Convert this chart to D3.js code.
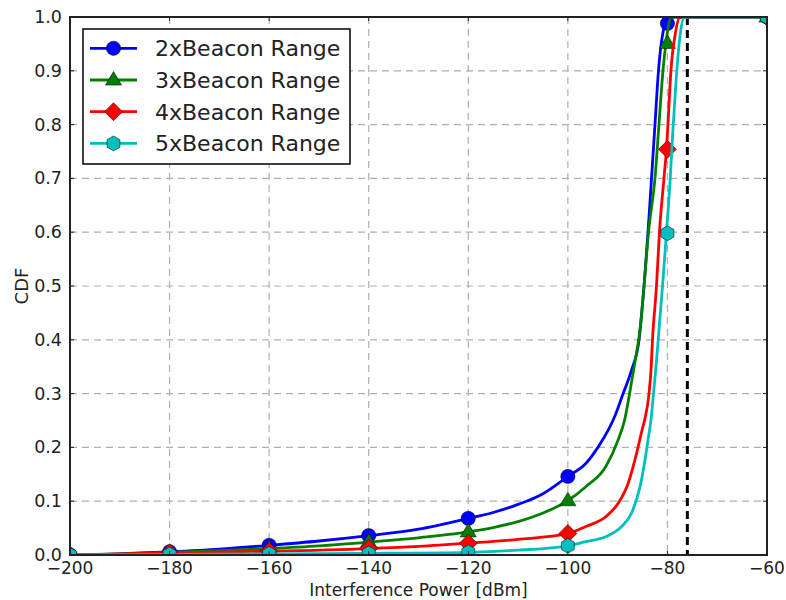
<!DOCTYPE html>
<html><head><meta charset="utf-8">
<script src="https://cdn.jsdelivr.net/npm/d3@7"></script>
<style>body{margin:0;background:#fff;} text{font-family:"DejaVu Sans",sans-serif;fill:#222;}</style>
</head><body><svg id="c" width="786" height="600"></svg>
<script>
const seriesNames = ["2xBeacon Range","3xBeacon Range","4xBeacon Range","5xBeacon Range"];
const seriesColors = ["#0000ff","#008000","#ff0000","#00bfbf"];
const seriesShapes = ["circle","triangle","diamond","hexagon"];
const xTicks = [-200,-180,-160,-140,-120,-100,-80,-60];
const yTicks = [0,0.1,0.2,0.3,0.4,0.5,0.6,0.7,0.8,0.9,1.0];
const thresholdX = -76;

const blueLine = [[-200,0],[-190,0.002],[-180,0.006],[-170,0.011],[-160,0.018],[-150,0.026],[-140,0.036],[-130,0.048],[-120,0.068],[-115,0.079],[-110,0.094],[-105,0.114],[-100,0.146],[-96.4,0.170],[-93.9,0.201],[-91.9,0.232],[-90.7,0.255],[-88.9,0.30],[-87.2,0.344],[-85.7,0.40],[-84.7,0.50],[-83.9,0.60],[-83.2,0.70],[-82.5,0.80],[-81.8,0.90],[-80.5,0.988],[-80,1.0],[-60,1.0]];
const greenLine = [[-200,0],[-190,0.002],[-180,0.005],[-170,0.008],[-160,0.012],[-150,0.017],[-140,0.024],[-130,0.032],[-120,0.043],[-115,0.051],[-110,0.062],[-105,0.078],[-100,0.101],[-96.4,0.127],[-92.4,0.164],[-89.9,0.214],[-88.6,0.251],[-87.6,0.30],[-86.5,0.36],[-85.5,0.42],[-84.7,0.50],[-83.8,0.60],[-82.5,0.70],[-81.7,0.80],[-80.9,0.90],[-80.3,0.951],[-79.2,1.0],[-60,1.0]];
const redLine = [[-200,0],[-180,0.004],[-160,0.007],[-140,0.012],[-130,0.016],[-120,0.022],[-110,0.029],[-100,0.040],[-96.4,0.053],[-92.4,0.071],[-89.9,0.096],[-87.9,0.133],[-86.2,0.189],[-85.1,0.232],[-84.6,0.25],[-83.7,0.30],[-83.3,0.344],[-83.0,0.40],[-82.2,0.50],[-81.6,0.60],[-80.7,0.70],[-80.2,0.754],[-79.9,0.80],[-79.3,0.90],[-78.4,0.97],[-77.5,1.0],[-60,1.0]];
const cyanLine = [[-200,0],[-180,0.001],[-160,0.002],[-140,0.003],[-120,0.005],[-110,0.009],[-100,0.017],[-96.4,0.025],[-92.4,0.034],[-89.2,0.053],[-87.2,0.078],[-85.5,0.127],[-84.5,0.177],[-83.8,0.22],[-83.3,0.251],[-82.8,0.30],[-82.2,0.36],[-81.6,0.43],[-80.9,0.51],[-80.2,0.598],[-79.5,0.69],[-78.9,0.79],[-78.2,0.89],[-77.4,0.97],[-76.6,1.0],[-60,1.0]];

const markerX = [-200,-180,-160,-140,-120,-100,-80,-60];
const blueMarkers = [0,0.006,0.018,0.036,0.068,0.146,0.988,1.0];
const greenMarkers = [0,0.005,0.012,0.024,0.043,0.101,0.951,1.0];
const redMarkers = [0,0.004,0.007,0.012,0.022,0.040,0.754,1.0];
const cyanMarkers = [0,0.001,0.002,0.003,0.005,0.017,0.598,1.0];

const lines = [blueLine, greenLine, redLine, cyanLine];
const markers = [blueMarkers, greenMarkers, redMarkers, cyanMarkers];

const svg = d3.select("#c");
const L = 70, R = 767, T = 17, B = 555;
const x = d3.scaleLinear().domain([-200,-60]).range([L,R]);
const y = d3.scaleLinear().domain([0,1]).range([B,T]);

svg.append("defs").append("clipPath").attr("id","clip")
  .append("rect").attr("x",L).attr("y",T).attr("width",R-L).attr("height",B-T);

// grid
const grid = svg.append("g");
grid.selectAll(".gx").data(xTicks.slice(1,-1)).enter().append("line")
  .attr("x1",d=>x(d)).attr("x2",d=>x(d)).attr("y1",T).attr("y2",B)
  .attr("stroke","#b0b0b0").attr("stroke-width",1.2).attr("stroke-dasharray","7,5");
grid.selectAll(".gy").data(yTicks.slice(1,-1)).enter().append("line")
  .attr("y1",d=>y(d)).attr("y2",d=>y(d)).attr("x1",L).attr("x2",R)
  .attr("stroke","#b0b0b0").attr("stroke-width",1.2).attr("stroke-dasharray","7,5");

// threshold line
svg.append("line").attr("x1",x(thresholdX)).attr("x2",x(thresholdX)).attr("y1",T).attr("y2",B)
  .attr("stroke","#000").attr("stroke-width",3).attr("stroke-dasharray","8,5");

function markerPath(shape){
  if(shape==="circle") return d3.symbol().type(d3.symbolCircle).size(160)();
  if(shape==="triangle") {const r=8.5; return `M0,${-r}L${r*0.95},${r*0.6}L${-r*0.95},${r*0.6}Z`;}
  if(shape==="diamond") {const r=9; return `M0,${-r}L${r},0L0,${r}L${-r},0Z`;}
  if(shape==="hexagon") {const r=7.5; let p=""; for(let i=0;i<6;i++){const a=Math.PI/3*i+Math.PI/6; p+=(i?"L":"M")+(r*Math.cos(a)).toFixed(2)+","+(r*Math.sin(a)).toFixed(2);} return p+"Z";}
}

const plot = svg.append("g").attr("clip-path","url(#clip)");
const lineGen = d3.line().x(d=>x(d[0])).y(d=>y(d[1])).curve(d3.curveMonotoneX);
lines.forEach((ln,i)=>{
  plot.append("path").attr("d",lineGen(ln)).attr("fill","none")
    .attr("stroke",seriesColors[i]).attr("stroke-width",2.8).attr("stroke-linejoin","round");
  plot.selectAll(null).data(markers[i]).enter().append("path")
    .attr("d",markerPath(seriesShapes[i]))
    .attr("transform",(d,j)=>`translate(${x(markerX[j])},${y(d)})`)
    .attr("fill",seriesColors[i]).attr("stroke","#000").attr("stroke-width",0.5);
});

// frame
svg.append("rect").attr("x",L).attr("y",T).attr("width",R-L).attr("height",B-T)
  .attr("fill","none").attr("stroke","#222").attr("stroke-width",2);

// ticks inward
const tk = svg.append("g").attr("stroke","#222").attr("stroke-width",1);
xTicks.forEach(v=>{
  tk.append("line").attr("x1",x(v)).attr("x2",x(v)).attr("y1",B).attr("y2",B-4);
  tk.append("line").attr("x1",x(v)).attr("x2",x(v)).attr("y1",T).attr("y2",T+4);
});
yTicks.forEach(v=>{
  tk.append("line").attr("x1",L).attr("x2",L+4).attr("y1",y(v)).attr("y2",y(v));
  tk.append("line").attr("x1",R).attr("x2",R-4).attr("y1",y(v)).attr("y2",y(v));
});

// tick labels
svg.selectAll(".xl").data(xTicks).enter().append("text")
  .attr("x",d=>x(d)).attr("y",574).attr("text-anchor","middle").attr("font-size",17)
  .text(d=>d3.format("")(d).replace("-","\u2212"));
svg.selectAll(".yl").data(yTicks).enter().append("text")
  .attr("x",L-8).attr("y",d=>y(d)+6).attr("text-anchor","end").attr("font-size",17.5)
  .text(d=>d.toFixed(1));

svg.append("text").attr("x",(L+R)/2).attr("y",596).attr("text-anchor","middle").attr("font-size",17)
  .text("Interference Power [dBm]");
svg.append("text").attr("transform",`translate(28,${(T+B)/2}) rotate(-90)`).attr("text-anchor","middle").attr("font-size",18)
  .text("CDF");

// legend
const lg = svg.append("g");
lg.append("rect").attr("x",83).attr("y",29).attr("width",267).attr("height",135)
  .attr("fill","#fff").attr("stroke","#000").attr("stroke-width",1.5);
seriesNames.forEach((n,i)=>{
  const cy = 48.3 + i*31.7;
  lg.append("line").attr("x1",90).attr("x2",137).attr("y1",cy).attr("y2",cy)
    .attr("stroke",seriesColors[i]).attr("stroke-width",2.8);
  lg.append("path").attr("d",markerPath(seriesShapes[i])).attr("transform",`translate(113.5,${cy})`)
    .attr("fill",seriesColors[i]).attr("stroke","#000").attr("stroke-width",0.5);
  lg.append("text").attr("x",155).attr("y",cy+8).attr("font-size",22).text(n);
});
</script></body></html>
